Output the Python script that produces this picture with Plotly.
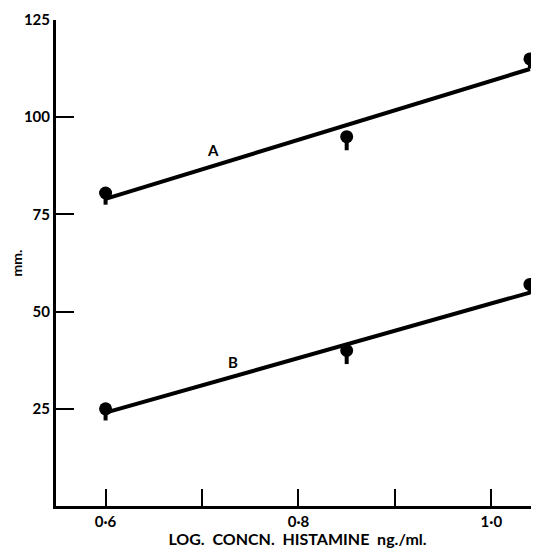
import plotly.graph_objects as go

# Data
conc = [0.6, 0.85, 1.04]
series_A = [80.5, 95, 115]
series_B = [25, 40, 57]
tail_A = [3, 3.5, 2.5]
tail_B = [3, 3.5, 2.5]
fit_x = [0.6, 1.04]
fit_A = [79, 112.4]
fit_B = [24, 54.9]
x_ticks = [0.6, 0.7, 0.8, 0.9, 1.0]
x_tick_labels = ["0·6", "", "0·8", "", "1·0"]
y_ticks = [25, 50, 75, 100, 125]
y_tick_labels = ["25", "50", "75", "100", "125"]

FONT = "Lato"
fig = go.Figure()
for fy in (fit_A, fit_B):
    fig.add_trace(go.Scatter(x=fit_x, y=fy, mode="lines",
                             line=dict(color="black", width=4), showlegend=False,
                             hoverinfo="skip", cliponaxis=False))
for sy, tail in ((series_A, tail_A), (series_B, tail_B)):
    fig.add_trace(go.Scatter(x=conc, y=sy, mode="markers", cliponaxis=False,
                             marker=dict(color="black", size=13, symbol="circle"),
                             error_y=dict(type="data", symmetric=False, array=[0]*len(sy),
                                          arrayminus=tail, color="black",
                                          thickness=4, width=0),
                             showlegend=False))

fig.add_annotation(x=0.711, y=91.5, text="A", showarrow=False,
                   font=dict(family=FONT, size=15, color="black", weight="bold"))
fig.add_annotation(x=0.732, y=37, text="B", showarrow=False,
                   font=dict(family=FONT, size=15, color="black", weight="bold"))

# page body has an 8px default margin, so the figure is sized/offset accordingly
fig.update_layout(
    width=531, height=540,
    margin=dict(l=44, r=0, t=12, b=42),
    plot_bgcolor="white", paper_bgcolor="white",
    font=dict(family=FONT, color="black", size=15),
    xaxis=dict(range=[0.5486, 1.0494], tickvals=x_ticks, ticktext=x_tick_labels,
               ticks="inside", ticklen=17, tickwidth=2, tickcolor="black",
               showline=True, linewidth=3, linecolor="black", showgrid=False,
               zeroline=False,
               tickfont=dict(family=FONT, size=15, weight="bold"),
               title=dict(text="LOG.  CONCN.  HISTAMINE  ng./ml.",
                          font=dict(family=FONT, size=16, weight="bold"), standoff=0)),
    yaxis=dict(range=[0, 125], tickvals=y_ticks, ticktext=y_tick_labels,
               ticks="inside", ticklen=18, tickwidth=2, tickcolor="black",
               showline=True, linewidth=3, linecolor="black", showgrid=False,
               zeroline=False,
               tickfont=dict(family=FONT, size=15, weight="bold"),
               title=dict(text="mm.", font=dict(family=FONT, size=14, weight="bold"),
                          standoff=6)),
)
fig.write_html("out.html")
